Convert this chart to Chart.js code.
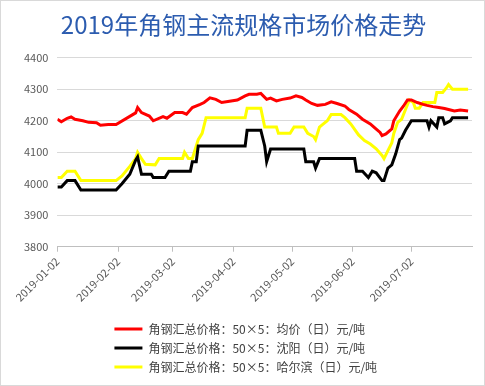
<!DOCTYPE html>
<html>
<head>
<meta charset="utf-8">
<title>2019年角钢主流规格市场价格走势</title>
<script src="https://cdn.jsdelivr.net/npm/chart.js@4.4.1/dist/chart.umd.min.js"></script>
<style>
  html, body { margin: 0; padding: 0; background: #fff; }
  #wrap {
    width: 485px;
    height: 386px;
    box-sizing: border-box;
    border: 1px solid #d9d9d9;
    position: relative;
  }
</style>
</head>
<body>
<div id="wrap"><canvas id="priceChart"></canvas></div>
<script>
"use strict";

// Month ticks on the date axis
const tickDates = ["01-02", "02-02", "03-02", "04-02", "05-02", "06-02", "07-02"];

// 均价 (red)
const avgDates = [
  "01-02", "01-04", "01-07", "01-09", "01-11", "01-15", "01-18", "01-22", "01-24", "01-28",
  "02-01", "02-11", "02-12", "02-14", "02-18", "02-20", "02-25", "02-27",
  "03-03", "03-07", "03-09", "03-12", "03-16", "03-18", "03-21", "03-24", "03-27", "03-31",
  "04-04", "04-08", "04-10", "04-14", "04-16", "04-19", "04-21", "04-24", "04-27",
  "05-01", "05-04", "05-07", "05-09", "05-12", "05-15", "05-19", "05-22", "05-25", "05-29", "05-31",
  "06-04", "06-07", "06-11", "06-13", "06-16", "06-17", "06-19", "06-22", "06-23", "06-26", "06-28", "06-30",
  "07-02", "07-05", "07-08", "07-10", "07-13", "07-16", "07-19", "07-21", "07-24", "07-27", "07-31"
];
const avgPrices = [
  4205, 4197, 4208, 4212, 4205, 4200, 4195, 4194, 4186, 4188,
  4188, 4225, 4242, 4226, 4215, 4200, 4213, 4208,
  4226, 4226, 4221, 4242, 4252, 4258, 4273, 4268, 4258, 4262,
  4266, 4279, 4284, 4284, 4287, 4268, 4272, 4263, 4268,
  4272, 4279, 4274, 4266, 4255, 4249, 4252, 4260, 4255, 4247, 4236,
  4221, 4205, 4190, 4179, 4163, 4153, 4158, 4174, 4200, 4231, 4247, 4266,
  4266, 4258, 4252, 4249, 4245, 4242, 4239, 4236, 4231, 4234, 4231
];

// 沈阳 (black)
const shenyangDates = [
  "01-02", "01-04", "01-07", "01-11", "01-14", "02-01", "02-04", "02-08", "02-11", "02-12",
  "02-14", "02-19", "02-20", "02-26", "02-28", "03-11", "03-12", "03-14", "03-15",
  "04-08", "04-09", "04-16", "04-18", "04-19", "04-21", "05-08", "05-09", "05-13", "05-14", "05-16",
  "06-03", "06-04", "06-07", "06-10", "06-12", "06-14", "06-17", "06-18", "06-20", "06-22",
  "06-24", "06-26", "06-27", "06-29", "07-02", "07-10", "07-11", "07-12", "07-15", "07-16",
  "07-18", "07-19", "07-22", "07-23", "07-31"
];
const shenyangPrices = [
  3990, 3990, 4010, 4010, 3980, 3980, 4000, 4030, 4075, 4085,
  4030, 4030, 4020, 4020, 4040, 4040, 4070, 4070, 4120,
  4120, 4170, 4170, 4120, 4070, 4110, 4110, 4070, 4070, 4050, 4080,
  4080, 4040, 4040, 4020, 4040, 4035, 4010, 4010, 4050, 4060,
  4095, 4140, 4145, 4170, 4200, 4200, 4180, 4200, 4180, 4210,
  4210, 4190, 4200, 4210, 4210
];

// 哈尔滨 (yellow)
const harbinDates = [
  "01-02", "01-04", "01-07", "01-11", "01-14", "02-01", "02-04", "02-08", "02-11", "02-12",
  "02-14", "02-16", "02-21", "02-23", "03-07", "03-08", "03-10", "03-12", "03-13", "03-15",
  "03-17", "03-19", "04-08", "04-09", "04-16", "04-18", "04-24", "04-25", "05-01", "05-03",
  "05-08", "05-10", "05-13", "05-14", "05-16", "05-18", "05-20", "05-22", "05-27", "05-29",
  "06-01", "06-05", "06-08", "06-11", "06-14", "06-17", "06-18", "06-20", "06-22", "06-23",
  "06-25", "06-27", "06-29", "07-01", "07-03", "07-04", "07-06", "07-08", "07-14", "07-15",
  "07-18", "07-20", "07-21", "07-23", "07-31"
];
const harbinPrices = [
  4020, 4020, 4040, 4040, 4010, 4010, 4025, 4055, 4080, 4100,
  4080, 4062, 4060, 4080, 4080, 4100, 4080, 4080, 4100, 4140,
  4160, 4210, 4210, 4240, 4240, 4180, 4180, 4160, 4160, 4180,
  4180, 4160, 4150, 4140, 4180, 4190, 4200, 4220, 4220, 4210,
  4190, 4155, 4137, 4126, 4111, 4090, 4080, 4105, 4130, 4160,
  4195, 4205, 4236, 4266, 4258, 4240, 4240, 4258, 4258, 4290,
  4290, 4305, 4315, 4300, 4300
];

const YEAR = "2019-";
const startTime = Date.parse(YEAR + "01-02");

// days since 2019-01-02, used as the x value
const dayOf = (md) => (Date.parse(YEAR + md) - startTime) / 86400000;

const toPoints = (dates, prices) =>
  dates.map((d, i) => ({ x: dayOf(d), y: prices[i] }));

const tickDays = tickDates.map(dayOf);

const makeSeries = (label, dates, prices, color) => ({
  label: label,
  data: toPoints(dates, prices),
  borderColor: color,
  backgroundColor: color,
  borderWidth: 3,
  pointRadius: 0,
  tension: 0
});

const axisFont = { family: "'Noto Sans CJK SC', 'Noto Sans', sans-serif", size: 11 };

// Excel stacks the legend rows flush left under the plot, not centred row by row
const legendIndent = {
  id: "legendIndent",
  afterLayout: (chart) => {
    chart.legend.left = chart.chartArea.left + 50;
  }
};

new Chart(document.getElementById("priceChart"), {
  type: "line",
  data: {
    datasets: [
      makeSeries("角钢汇总价格：50×5：均价（日）元/吨", avgDates, avgPrices, "#ff0000"),
      makeSeries("角钢汇总价格：50×5：沈阳（日）元/吨", shenyangDates, shenyangPrices, "#000000"),
      makeSeries("角钢汇总价格：50×5：哈尔滨（日）元/吨", harbinDates, harbinPrices, "#ffff00")
    ]
  },
  plugins: [legendIndent],
  options: {
    responsive: true,
    maintainAspectRatio: false,
    animation: false,
    layout: { padding: { left: 14, right: 12, top: 0, bottom: 2 } },
    plugins: {
      title: {
        display: true,
        text: "2019年角钢主流规格市场价格走势",
        color: "#2c5caf",
        font: { family: "'Noto Sans CJK SC', sans-serif", size: 24, weight: "normal" },
        padding: { top: 9, bottom: 19 }
      },
      legend: {
        position: "bottom",
        align: "start",
        labels: {
          color: "#404040",
          font: { family: "'Noto Sans CJK SC', sans-serif", size: 12 },
          boxWidth: 28,
          boxHeight: 3,
          padding: 7,
          generateLabels: (chart) =>
            Chart.defaults.plugins.legend.labels
              .generateLabels(chart)
              .map((item) => ({ ...item, lineWidth: 0 }))
        }
      },
      tooltip: { enabled: false }
    },
    scales: {
      x: {
        type: "linear",
        min: 0,
        max: 212,
        afterBuildTicks: (scale) => {
          scale.ticks = tickDays.map((v) => ({ value: v }));
        },
        afterFit: (scale) => {
          scale.height += 9;
        },
        ticks: {
          autoSkip: false,
          minRotation: 45,
          maxRotation: 45,
          color: "#595959",
          font: axisFont,
          callback: (value) => YEAR + tickDates[tickDays.indexOf(value)]
        },
        grid: {
          drawOnChartArea: false,
          drawTicks: true,
          tickLength: 5,
          color: "#bfbfbf"
        },
        border: { color: "#bfbfbf" }
      },
      y: {
        min: 3800,
        max: 4400,
        ticks: {
          stepSize: 100,
          padding: 9,
          color: "#595959",
          font: axisFont,
          callback: (value) => String(value)
        },
        grid: { color: "#d9d9d9", drawTicks: false },
        border: { display: false }
      }
    }
  }
});
</script>
</body>
</html>
